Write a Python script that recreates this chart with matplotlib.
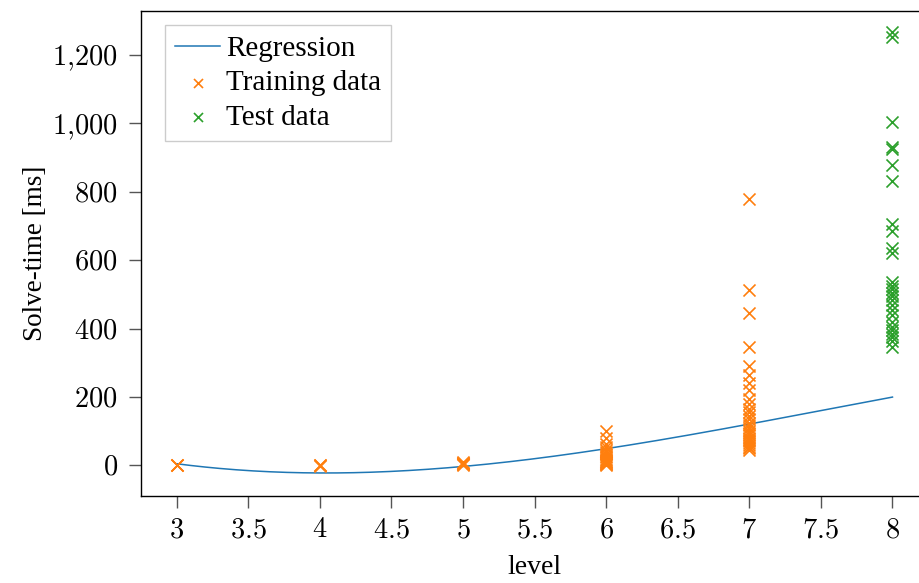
import numpy as np
import matplotlib
matplotlib.use("Agg")
import matplotlib.pyplot as plt
from matplotlib.ticker import FuncFormatter

plt.rcParams['font.family'] = 'serif'
plt.rcParams['font.serif'] = ['Liberation Serif']
plt.rcParams['mathtext.fontset'] = 'cm'

# Regression curve (cubic in level)
reg_coeffs = [-2.17, 49.04, -289.99, 492.2]  # highest power first
reg_x_range = (3.0, 8.0)

# Training data (levels 3-7)
train_level3 = [1, 0, 2]
train_level4 = [0, 1, -1]
train_level5 = [2, 4, 6, 8, 10, 5, 3]
train_level6 = [100, 80, 62, 55, 45, 38, 32, 28, 24, 20, 17, 14, 11, 9, 7, 5, 3, 2]
train_level7 = [780, 513, 445, 347, 290, 265, 240, 220, 195, 180, 165, 155, 145,
                135, 125, 118, 110, 100, 95, 88, 80, 75, 70, 65, 60, 55, 50, 45]

# Test data (level 8)
test_level8 = [1267, 1253, 1005, 930, 925, 878, 832, 706, 686, 635, 621,
               535, 525, 515, 505, 495, 485, 470, 455, 440, 420, 405, 395,
               385, 375, 365, 345]

x_ticks = [3, 3.5, 4, 4.5, 5, 5.5, 6, 6.5, 7, 7.5, 8]
y_ticks = [0, 200, 400, 600, 800, 1000, 1200]

train_x, train_y = [], []
for lvl, vals in zip([3, 4, 5, 6, 7],
                     [train_level3, train_level4, train_level5, train_level6, train_level7]):
    train_x += [lvl] * len(vals)
    train_y += vals
test_x = [8] * len(test_level8)

fig = plt.figure(figsize=(9.2, 5.83), dpi=100)
# axes extends slightly past the right edge (cropped like the reference)
ax = fig.add_axes([0.153, 0.150, 0.856, 0.831])

xs = np.linspace(reg_x_range[0], reg_x_range[1], 300)
ax.plot(xs, np.polyval(reg_coeffs, xs), color='#1f77b4', lw=1.1, label='Regression')
ax.scatter(train_x, train_y, marker='x', s=75, color='#ff7f0e', linewidths=1.2,
           label='Training data', zorder=3)
ax.scatter(test_x, test_level8, marker='x', s=75, color='#2ca02c', linewidths=1.2,
           label='Test data', zorder=3)

ax.set_xlim(2.75, 8.25)
ax.set_ylim(-88, 1328)
ax.set_xticks(x_ticks)
ax.set_yticks(y_ticks)
ax.xaxis.set_major_formatter(FuncFormatter(lambda v, p: f"${v:g}$"))
ax.yaxis.set_major_formatter(FuncFormatter(lambda v, p: "$" + f"{v:,.0f}".replace(",", "{,}") + "$"))
ax.tick_params(direction='out', length=8.5, width=1, color='#555555', labelsize=20.5, pad=8)
for s in ax.spines.values():
    s.set_linewidth(1.0)

ax.set_xlabel('level', fontsize=20, labelpad=8)
ax.set_ylabel('Solve-time [ms]', fontsize=19.5, labelpad=3)

leg = ax.legend(loc='upper left', bbox_to_anchor=(0.0305, 0.971), fontsize=21,
                fancybox=False, framealpha=1, edgecolor='#cccccc', borderpad=0.35,
                handlelength=1.55, handletextpad=0.2, labelspacing=0.28,
                borderaxespad=0.0, scatterpoints=1, markerscale=0.75)
leg.get_frame().set_linewidth(1.0)

fig.savefig('out.png', dpi=100)
